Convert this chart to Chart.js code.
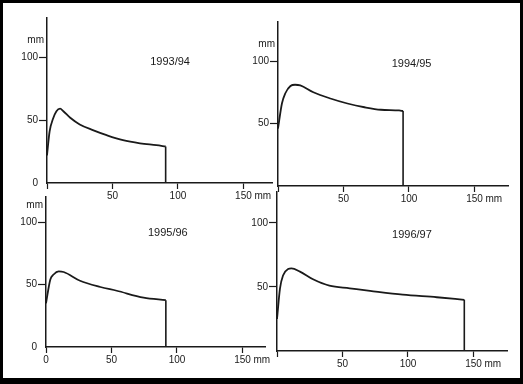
<!DOCTYPE html>
<html>
<head>
<meta charset="utf-8">
<script src="https://cdn.jsdelivr.net/npm/chart.js@4.4.0/dist/chart.umd.min.js"></script>
<style>
html, body { margin: 0; padding: 0; background: #fff; }
#wrap { position: relative; width: 523px; height: 384px; overflow: hidden; background: #fff; }
#frame { position: absolute; left: 0; top: 0; width: 517px; height: 375px; border-style: solid; border-color: #000; border-width: 3px 3px 6px 3px; }
canvas { position: absolute; left: 0; top: 0; }
</style>
</head>
<body>
<div id="wrap">
  <div id="frame"></div>
  <canvas id="c1" width="523" height="384"></canvas>
  <canvas id="c2" width="523" height="384"></canvas>
  <canvas id="c3" width="523" height="384"></canvas>
  <canvas id="c4" width="523" height="384"></canvas>
</div>
<script>
// seasons and curves (x = distance in mm, y = depth in mm)
const seasons = ["1993/94", "1994/95", "1995/96", "1996/97"];

const x9394 = [0, 2, 4.6, 7.2, 10, 12.5, 17.5, 25, 35, 45.5, 58, 71, 83.5, 90.6];
const y9394 = [22, 41, 51, 57, 59, 57, 52, 46.5, 42, 38, 34, 31.5, 30, 29];

const x9495 = [0, 3, 5.5, 9.5, 13, 17, 27, 40, 53, 66, 78.5, 92.5, 95.5];
const y9495 = [46, 66, 74, 80, 81, 80.5, 75, 70, 66, 63, 61, 60.5, 60];

const x9596 = [0, 3.3, 5.8, 9.7, 13.5, 26, 41.5, 54, 74.5, 91.5];
const y9596 = [35, 54, 58, 60.5, 60, 53, 48, 45, 39.5, 37.5];

const x9697 = [0, 2.3, 4.6, 8.5, 11, 17.5, 27.5, 40, 55.5, 71, 96, 122, 143];
const y9697 = [25, 49, 59, 64, 64.5, 62, 56, 51, 49, 47, 44, 42, 40];

const xTicks = [0, 50, 100, 150];
const yTicks = [0, 50, 100];
const xMax = [171.8, 175.6, 167.2, 175.6];
const yMax = [131, 131.2, 120, 124.2];
const titleAt = [[94, 96], [102, 97.5], [93, 91], [103, 91]];

// layout of each panel on the page
const frames = [
  { left: 47, right: 272, top: 18, bottom: 183 },
  { left: 278, right: 508, top: 22, bottom: 186 },
  { left: 46, right: 265, top: 197, bottom: 347 },
  { left: 277, right: 507, top: 192, bottom: 351 }
];
const showZeroY = [true, false, true, false];
const showZeroX = [false, false, true, false];
const showUnitY = [true, true, true, false];

const ink = "#1a1a1a";
const fontFamily = '"Liberation Sans Narrow", "Liberation Sans", sans-serif';

const textPlugin = {
  id: "texts",
  afterDraw(chart, args, opts) {
    const ctx = chart.ctx;
    const xs = chart.scales.x, ys = chart.scales.y;
    ctx.save();
    ctx.fillStyle = ink;
    ctx.font = "11px " + fontFamily;
    ctx.textAlign = "center";
    ctx.textBaseline = "middle";
    ctx.fillText(opts.title, xs.getPixelForValue(opts.at[0]), ys.getPixelForValue(opts.at[1]));
    ctx.font = "10px " + fontFamily;
    if (opts.unitY) {
      ctx.textAlign = "right";
      ctx.fillText("mm", chart.chartArea.left - 3, ys.getPixelForValue(100) - 17);
    }
    ctx.textAlign = "left";
    ctx.fillText("mm", xs.getPixelForValue(150) + 11, chart.chartArea.bottom + 13);
    ctx.restore();
  }
};

function makeChart(id, i, xs, ys) {
  const f = frames[i];
  const curve = xs.map((x, k) => ({ x: x, y: ys[k] }));
  const last = curve[curve.length - 1];

  new Chart(document.getElementById(id), {
    type: "line",
    data: {
      datasets: [
        {
          data: curve,
          borderColor: ink,
          borderWidth: 1.8,
          pointRadius: 0,
          cubicInterpolationMode: "monotone",
          fill: false,
          clip: false
        },
        {
          data: [{ x: last.x, y: last.y }, { x: last.x, y: 0 }],
          borderColor: ink,
          borderWidth: 1.6,
          pointRadius: 0,
          tension: 0,
          fill: false,
          clip: false
        }
      ]
    },
    options: {
      responsive: false,
      animation: false,
      devicePixelRatio: 1,
      layout: { padding: { left: 0, top: f.top, right: 523 - f.right, bottom: 0 } },
      plugins: {
        legend: { display: false },
        tooltip: { enabled: false },
        texts: { title: seasons[i], at: titleAt[i], unitY: showUnitY[i] }
      },
      scales: {
        x: {
          type: "linear",
          min: 0,
          max: xMax[i],
          afterFit: s => { s.height = 384 - f.bottom; },
          afterBuildTicks: s => { s.ticks = xTicks.map(v => ({ value: v })); },
          grid: { drawOnChartArea: false, drawTicks: true, tickLength: 6, tickColor: ink, tickWidth: 1.2 },
          border: { color: ink, width: 1.5 },
          ticks: {
            autoSkip: false,
            maxRotation: 0,
            padding: 1,
            color: ink,
            font: { family: fontFamily, size: 10 },
            callback: v => (v === 0 && !showZeroX[i]) ? "" : String(v)
          }
        },
        y: {
          min: 0,
          max: yMax[i],
          afterFit: s => { s.width = f.left; },
          afterBuildTicks: s => { s.ticks = yTicks.map(v => ({ value: v })); },
          grid: {
            drawOnChartArea: false,
            drawTicks: true,
            tickLength: 8,
            tickWidth: 1.2,
            tickColor: c => (c.tick && c.tick.value === 0) ? "rgba(0,0,0,0)" : ink
          },
          border: { color: ink, width: 1.5 },
          ticks: {
            padding: 1,
            color: ink,
            font: { family: fontFamily, size: 10 },
            callback: v => (v === 0 && !showZeroY[i]) ? "" : String(v)
          }
        }
      }
    },
    plugins: [textPlugin]
  });
}

makeChart("c1", 0, x9394, y9394);
makeChart("c2", 1, x9495, y9495);
makeChart("c3", 2, x9596, y9596);
makeChart("c4", 3, x9697, y9697);
</script>
</body>
</html>
